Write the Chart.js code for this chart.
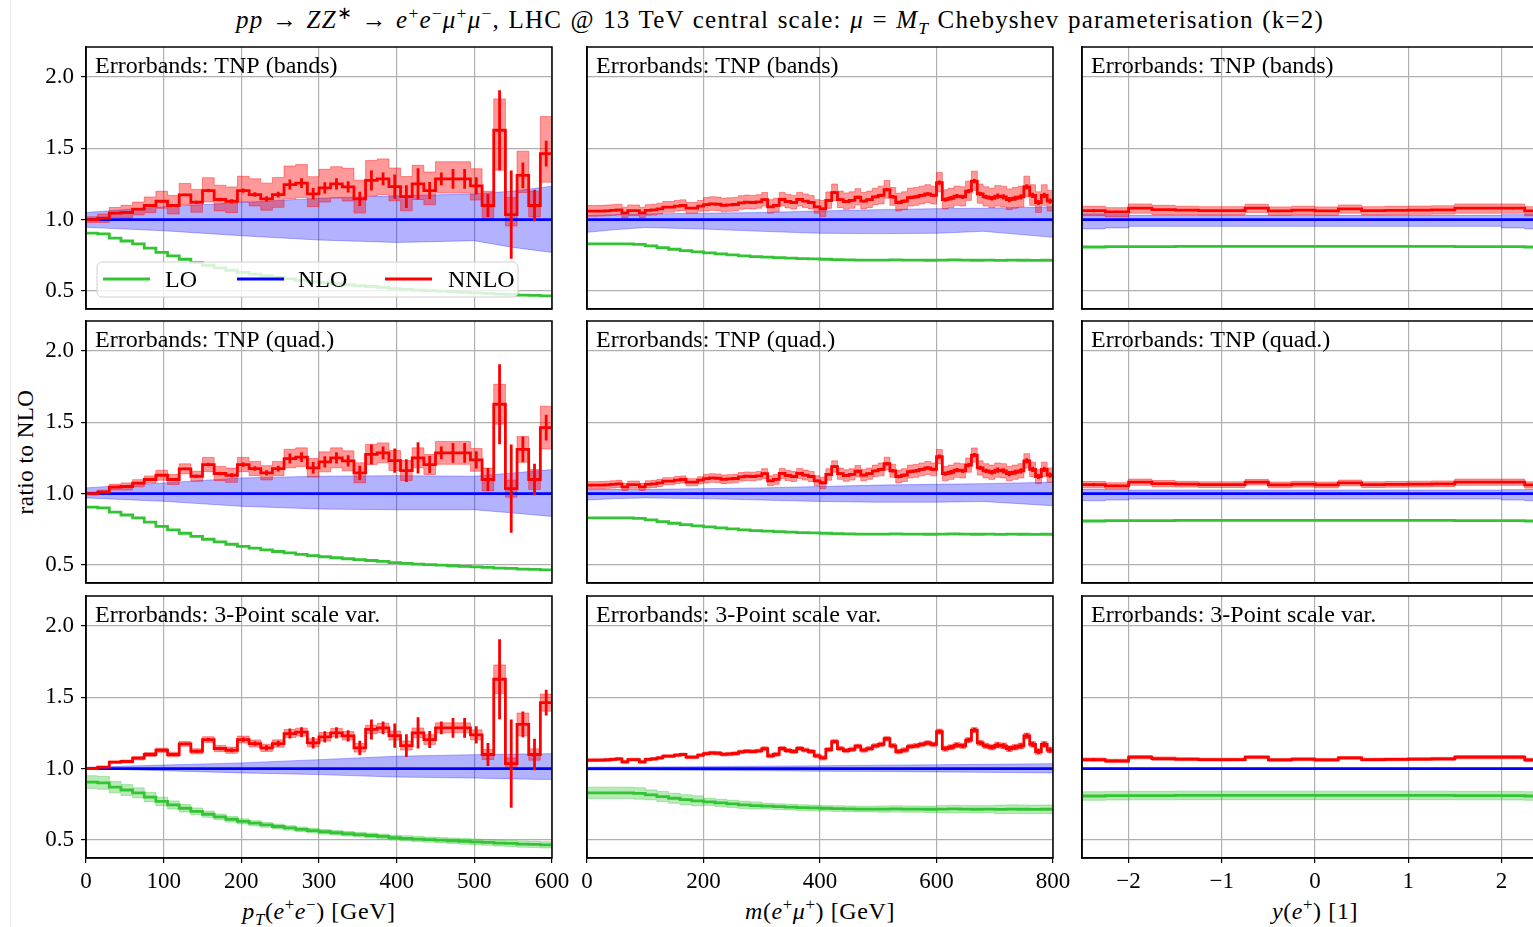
<!DOCTYPE html>
<html>
<head>
<meta charset="utf-8">
<title>Ratio to NLO, pp → ZZ* → e+e−μ+μ−</title>
<style>
  html, body { margin: 0; padding: 0; background: #fff; }
  body { width: 1533px; height: 927px; overflow: hidden; position: relative;
         font-family: 'Liberation Serif', 'Times New Roman', serif; color: #000; }
  canvas { position: absolute; }
  .txt { position: absolute; white-space: nowrap; line-height: 1; }
  #title { left: 780px; top: 7px; transform: translateX(-50%); font-size: 25px; letter-spacing: 1.2px; word-spacing: 1px; }
  #ylabel { left: 25px; top: 452px; transform: translate(-50%, -50%) rotate(-90deg); font-size: 23px; letter-spacing: 0.5px; }
  .xlabel { top: 899px; transform: translateX(-50%); font-size: 24px; letter-spacing: 0.6px; }
  sup, sub { font-size: 70%; line-height: 0; }
  #edge { position: absolute; left: 10px; top: 0; width: 1px; height: 927px; background: #ececec; }
</style>
</head>
<body>
<div id="edge"></div>
<div class="txt" id="title"><i>pp</i> → <i>ZZ</i><sup>∗</sup> → <i>e</i><sup>+</sup><i>e</i><sup>−</sup><i>μ</i><sup>+</sup><i>μ</i><sup>−</sup>, LHC @ 13 TeV central scale: <i>μ</i> = <i>M<sub>T</sub></i> Chebyshev parameterisation (k=2)</div>
<div class="txt" id="ylabel">ratio to NLO</div>
<div class="txt xlabel" style="left:319px"><i>p<sub>T</sub></i>(<i>e</i><sup>+</sup><i>e</i><sup>−</sup>) [GeV]</div>
<div class="txt xlabel" style="left:820px"><i>m</i>(<i>e</i><sup>+</sup><i>μ</i><sup>+</sup>) [GeV]</div>
<div class="txt xlabel" style="left:1315px"><i>y</i>(<i>e</i><sup>+</sup>) [1]</div>

<script src="https://cdn.jsdelivr.net/npm/chart.js@4"></script>
<script>
// ---------- values ----------
const seriesNames = ['LO', 'NLO', 'NNLO'];
const rowLabels = ['Errorbands: TNP (bands)', 'Errorbands: TNP (quad.)', 'Errorbands: 3-Point scale var.'];
const yTicks = [0.5, 1.0, 1.5, 2.0];
const yRange = [0.373, 2.211];
const nloRatio = 1.0;

// p_T(e+e-) [GeV], 15 GeV bins
const ptTicks = [0, 100, 200, 300, 400, 500, 600];
const ptEdges = [0, 15, 30, 45, 60, 75, 90, 105, 120, 135, 150, 165, 180, 195, 210, 225, 240, 255, 270, 285,
  300, 315, 330, 345, 360, 375, 390, 405, 420, 435, 450, 465, 480, 495, 510, 525, 540, 555, 570, 585, 600];
const ptNNLO = [1.000, 1.010, 1.045, 1.050, 1.073, 1.099, 1.129, 1.099, 1.174, 1.122,
  1.204, 1.141, 1.129, 1.204, 1.176, 1.146, 1.176, 1.246, 1.256, 1.181,
  1.223, 1.251, 1.230, 1.146, 1.275, 1.286, 1.232, 1.162, 1.251, 1.204,
  1.286, 1.286, 1.286, 1.237, 1.099, 1.627, 1.035, 1.310, 1.099, 1.463];
const ptStat = [0.004, 0.004, 0.005, 0.005, 0.006, 0.006, 0.007, 0.008, 0.008, 0.010,
  0.012, 0.012, 0.014, 0.015, 0.016, 0.018, 0.020, 0.035, 0.035, 0.040,
  0.040, 0.040, 0.040, 0.050, 0.070, 0.045, 0.085, 0.080, 0.110, 0.060,
  0.045, 0.070, 0.070, 0.060, 0.080, 0.280, 0.310, 0.090, 0.110, 0.090];
const ptLO = [0.905, 0.900, 0.870, 0.850, 0.830, 0.800, 0.770, 0.745, 0.722, 0.700,
  0.680, 0.662, 0.645, 0.630, 0.617, 0.605, 0.594, 0.584, 0.574, 0.565,
  0.557, 0.550, 0.543, 0.537, 0.531, 0.525, 0.516, 0.511, 0.506, 0.502,
  0.498, 0.494, 0.490, 0.486, 0.482, 0.478, 0.475, 0.471, 0.468, 0.465];
const ptLOScale = [0.045, 0.045, 0.040, 0.038, 0.035, 0.032, 0.030, 0.028, 0.026, 0.024,
  0.022, 0.020, 0.020, 0.018, 0.018, 0.017, 0.017, 0.016, 0.016, 0.016,
  0.016, 0.016, 0.016, 0.016, 0.017, 0.017, 0.017, 0.018, 0.018, 0.018,
  0.019, 0.019, 0.020, 0.020, 0.020, 0.021, 0.021, 0.022, 0.022, 0.022];
const ptRedUpBands = [0.02, 0.03, 0.04, 0.05, 0.05, 0.06, 0.07, 0.07, 0.08, 0.09,
  0.09, 0.10, 0.10, 0.10, 0.11, 0.11, 0.12, 0.13, 0.13, 0.12,
  0.13, 0.12, 0.13, 0.13, 0.14, 0.14, 0.13, 0.14, 0.13, 0.13,
  0.12, 0.12, 0.12, 0.12, 0.10, 0.22, 0.12, 0.17, 0.10, 0.26];
const ptRedDnBands = [0.02, 0.03, 0.03, 0.04, 0.04, 0.05, 0.05, 0.06, 0.07, 0.07,
  0.08, 0.08, 0.08, 0.08, 0.08, 0.08, 0.09, 0.10, 0.10, 0.09,
  0.10, 0.10, 0.10, 0.10, 0.11, 0.11, 0.10, 0.10, 0.11, 0.10,
  0.10, 0.10, 0.10, 0.10, 0.09, 0.28, 0.08, 0.12, 0.08, 0.20];
const ptRedQuad = [0.010, 0.015, 0.020, 0.025, 0.025, 0.025, 0.035, 0.035, 0.035, 0.035,
  0.050, 0.050, 0.050, 0.050, 0.050, 0.050, 0.050, 0.065, 0.065, 0.065,
  0.070, 0.070, 0.070, 0.070, 0.070, 0.070, 0.070, 0.070, 0.070, 0.070,
  0.080, 0.080, 0.080, 0.080, 0.080, 0.140, 0.060, 0.090, 0.070, 0.150];
const ptRedScale = [0.004, 0.006, 0.008, 0.010, 0.012, 0.014, 0.015, 0.016, 0.017, 0.018,
  0.020, 0.022, 0.022, 0.024, 0.025, 0.025, 0.026, 0.028, 0.028, 0.028,
  0.030, 0.030, 0.030, 0.030, 0.030, 0.032, 0.032, 0.032, 0.034, 0.034,
  0.035, 0.035, 0.035, 0.035, 0.035, 0.100, 0.040, 0.080, 0.040, 0.060];
const ptNloX = [0, 100, 200, 300, 400, 500, 550, 600];
const ptNloUpBands = [1.050, 1.090, 1.120, 1.150, 1.167, 1.180, 1.200, 1.235];
const ptNloDnBands = [0.946, 0.922, 0.887, 0.857, 0.840, 0.852, 0.805, 0.770];
const ptNloUpQuad = [1.040, 1.075, 1.110, 1.122, 1.126, 1.122, 1.145, 1.169];
const ptNloDnQuad = [0.970, 0.946, 0.911, 0.892, 0.887, 0.887, 0.864, 0.840];
const ptNloUpScale = [1.009, 1.025, 1.040, 1.063, 1.087, 1.098, 1.102, 1.105];
const ptNloDnScale = [1.000, 0.985, 0.970, 0.958, 0.941, 0.934, 0.928, 0.923];

// m(e+mu+) [GeV], 10 GeV bins (LO read on 20 GeV bins, bands per 100 GeV)
const mTicks = [0, 200, 400, 600, 800];
const mEdges = [0, 10, 20, 30, 40, 50, 60, 70, 80, 90, 100, 110, 120, 130, 140, 150, 160, 170, 180, 190,
  200, 210, 220, 230, 240, 250, 260, 270, 280, 290, 300, 310, 320, 330, 340, 350, 360, 370, 380, 390,
  400, 410, 420, 430, 440, 450, 460, 470, 480, 490, 500, 510, 520, 530, 540, 550, 560, 570, 580, 590,
  600, 610, 620, 630, 640, 650, 660, 670, 680, 690, 700, 710, 720, 730, 740, 750, 760, 770, 780, 790, 800];
const mNNLO = [1.059, 1.059, 1.060, 1.062, 1.065, 1.068, 1.047, 1.063, 1.063, 1.047,
  1.065, 1.068, 1.075, 1.087, 1.087, 1.095, 1.099, 1.080, 1.080, 1.094,
  1.105, 1.110, 1.108, 1.100, 1.103, 1.106, 1.118, 1.122, 1.120, 1.125,
  1.140, 1.090, 1.100, 1.141, 1.127, 1.120, 1.141, 1.130, 1.120, 1.090,
  1.075, 1.134, 1.190, 1.140, 1.127, 1.135, 1.157, 1.130, 1.140, 1.160,
  1.170, 1.210, 1.160, 1.120, 1.130, 1.155, 1.160, 1.170, 1.180, 1.170,
  1.260, 1.140, 1.150, 1.165, 1.160, 1.200, 1.270, 1.180, 1.160, 1.150,
  1.165, 1.160, 1.140, 1.150, 1.160, 1.230, 1.170, 1.120, 1.170, 1.130];
const mStat = [0.004, 0.005, 0.006, 0.008, 0.010, 0.012, 0.015, 0.018];
const mLOEdges = [0, 20, 40, 60, 80, 100, 120, 140, 160, 180, 200, 220, 240, 260, 280, 300, 320, 340, 360, 380,
  400, 420, 440, 460, 480, 500, 520, 540, 560, 580, 600, 620, 640, 660, 680, 700, 720, 740, 760, 780, 800];
const mLO = [0.830, 0.830, 0.830, 0.830, 0.826, 0.816, 0.804, 0.792, 0.782, 0.774,
  0.767, 0.760, 0.753, 0.746, 0.741, 0.737, 0.733, 0.730, 0.727, 0.724,
  0.722, 0.720, 0.718, 0.716, 0.716, 0.716, 0.717, 0.716, 0.716, 0.715,
  0.716, 0.717, 0.716, 0.715, 0.716, 0.714, 0.716, 0.715, 0.714, 0.715];
const mLOScale = [0.040, 0.035, 0.025, 0.020, 0.020, 0.022, 0.026, 0.030];
const mRedUpBands = [0.040, 0.040, 0.050, 0.050, 0.060, 0.065, 0.070, 0.075];
const mRedDnBands = [0.035, 0.035, 0.045, 0.045, 0.055, 0.060, 0.065, 0.070];
const mRedQuad = [0.025, 0.025, 0.030, 0.035, 0.040, 0.045, 0.050, 0.050];
const mRedScale = [0.010, 0.010, 0.012, 0.014, 0.015, 0.016, 0.018, 0.020];
const mNloX = [0, 50, 100, 200, 300, 400, 500, 600, 680, 800];
const mNloUpBands = [1.030, 1.035, 1.040, 1.045, 1.050, 1.060, 1.070, 1.077, 1.080, 1.090];
const mNloDnBands = [0.911, 0.930, 0.945, 0.934, 0.918, 0.904, 0.902, 0.904, 0.918, 0.876];
const mNloUpQuad = [1.030, 1.030, 1.030, 1.035, 1.040, 1.050, 1.060, 1.065, 1.070, 1.080];
const mNloDnQuad = [0.955, 0.965, 0.970, 0.965, 0.955, 0.945, 0.940, 0.940, 0.945, 0.915];
const mNloUpScale = [1.010, 1.011, 1.012, 1.014, 1.017, 1.020, 1.024, 1.027, 1.030, 1.035];
const mNloDnScale = [0.990, 0.990, 0.990, 0.988, 0.985, 0.982, 0.980, 0.977, 0.974, 0.970];

// y(e+), 0.25 bins (bands per unit of rapidity)
const yTicksX = [-2, -1, 0, 1, 2];
const yEdges = [-2.5, -2.25, -2, -1.75, -1.5, -1.25, -1, -0.75, -0.5, -0.25, 0,
  0.25, 0.5, 0.75, 1, 1.25, 1.5, 1.75, 2, 2.25, 2.5];
const yNNLO = [1.063, 1.054, 1.080, 1.070, 1.066, 1.063, 1.063, 1.080, 1.061, 1.066,
  1.061, 1.075, 1.063, 1.065, 1.067, 1.069, 1.080, 1.080, 1.080, 1.061];
const yStat = [0.012, 0.008, 0.006, 0.005, 0.005, 0.005, 0.004, 0.004, 0.004, 0.004,
  0.004, 0.004, 0.004, 0.004, 0.005, 0.005, 0.005, 0.006, 0.008, 0.012];
const yLO = [0.808, 0.810, 0.811, 0.811, 0.812, 0.812, 0.812, 0.812, 0.812, 0.812,
  0.812, 0.812, 0.812, 0.812, 0.812, 0.812, 0.811, 0.811, 0.810, 0.808];
const yLOScale = [0.030, 0.030, 0.030, 0.030, 0.030];
const yRedUpBands = [0.030, 0.028, 0.028, 0.028, 0.030];
const yRedDnBands = [0.035, 0.030, 0.030, 0.030, 0.035];
const yRedQuad = [0.022, 0.020, 0.020, 0.020, 0.022];
const yRedScale = [0.012, 0.010, 0.010, 0.010, 0.012];
const yNloEdges = [-2.5, -2.25, -2, 2, 2.25, 2.5];
const yNloUpBands = [1.040, 1.035, 1.030, 1.035, 1.040];
const yNloDnBands = [0.935, 0.942, 0.953, 0.942, 0.935];
const yNloUpQuad = [1.030, 1.028, 1.025, 1.028, 1.030];
const yNloDnQuad = [0.950, 0.955, 0.962, 0.955, 0.950];
const yNloUpScale = [1.004, 1.004, 1.003, 1.004, 1.004];
const yNloDnScale = [0.996, 0.996, 0.997, 0.996, 0.996];

// ---------- styling / layout ----------
const RED = '#ff0000', BLUE = '#0000ff', GREEN = '#33c433';
const RED_BAND = 'rgba(255,0,0,0.4)', BLUE_BAND = 'rgba(0,0,255,0.3)', GREEN_BAND = 'rgba(51,196,51,0.35)';
const GRID = '#b0b0b0';
const SERIF = "'Liberation Serif', 'Times New Roman', serif";
const colLeft = [86, 587, 1082];
const rowTop = [47, 321, 596];
const plotW = 466, plotH = 262;

// repeat each coarse value over n bins
const perBin = (coarse, n) => coarse.flatMap((v) => Array(n).fill(v));

// histogram steps: value i holds from edges[i] to edges[i+1] (use with stepped: true)
function steps(edges, vals) {
  const pts = vals.map((v, i) => ({ x: edges[i], y: v }));
  pts.push({ x: edges[edges.length - 1], y: vals[vals.length - 1] });
  return pts;
}
function points(xs, ys) {
  return xs.map((x, i) => ({ x, y: ys[i] }));
}
function errBars(edges, vals, errs) {
  const pts = [];
  vals.forEach((v, i) => {
    const c = (edges[i] + edges[i + 1]) / 2;
    pts.push({ x: c, y: v - errs[i] }, { x: c, y: v + errs[i] }, { x: c, y: null });
  });
  return pts;
}
function band(lower, upper, color, stepped) {
  return [
    { data: lower, borderColor: color, borderWidth: 1, stepped, fill: false },
    { data: upper, borderColor: color, borderWidth: 1, stepped, fill: '-1', backgroundColor: color },
  ];
}

const columns = [
  {
    edges: ptEdges, nnlo: ptNNLO, stat: ptStat, loEdges: ptEdges, lo: ptLO, loScale: ptLOScale,
    ticks: ptTicks, range: [0, 600],
    red: [[ptRedUpBands, ptRedDnBands], [ptRedQuad, ptRedQuad], [ptRedScale, ptRedScale]],
    nloX: ptNloX, nloStepped: false,
    nlo: [[ptNloUpBands, ptNloDnBands], [ptNloUpQuad, ptNloDnQuad], [ptNloUpScale, ptNloDnScale]],
  },
  {
    edges: mEdges, nnlo: mNNLO, stat: perBin(mStat, 10), loEdges: mLOEdges, lo: mLO, loScale: perBin(mLOScale, 5),
    ticks: mTicks, range: [0, 800],
    red: [[perBin(mRedUpBands, 10), perBin(mRedDnBands, 10)], [perBin(mRedQuad, 10), perBin(mRedQuad, 10)],
      [perBin(mRedScale, 10), perBin(mRedScale, 10)]],
    nloX: mNloX, nloStepped: false,
    nlo: [[mNloUpBands, mNloDnBands], [mNloUpQuad, mNloDnQuad], [mNloUpScale, mNloDnScale]],
  },
  {
    edges: yEdges, nnlo: yNNLO, stat: yStat, loEdges: yEdges, lo: yLO, loScale: perBin(yLOScale, 4),
    ticks: yTicksX, range: [-2.5, 2.5],
    red: [[perBin(yRedUpBands, 4), perBin(yRedDnBands, 4)], [perBin(yRedQuad, 4), perBin(yRedQuad, 4)],
      [perBin(yRedScale, 4), perBin(yRedScale, 4)]],
    nloX: yNloEdges, nloStepped: true,
    nlo: [[yNloUpBands, yNloDnBands], [yNloUpQuad, yNloDnQuad], [yNloUpScale, yNloDnScale]],
  },
];

function panelDatasets(col, row) {
  const ds = [
    { data: errBars(col.edges, col.nnlo, col.stat), borderColor: RED, borderWidth: 2.8, spanGaps: false },
    { data: steps(col.edges, col.nnlo), borderColor: RED, borderWidth: 2.8, stepped: true },
    { data: [{ x: col.range[0], y: nloRatio }, { x: col.range[1], y: nloRatio }], borderColor: BLUE, borderWidth: 2.8 },
    { data: steps(col.loEdges, col.lo), borderColor: GREEN, borderWidth: 2.8, stepped: true },
  ];
  const [up, dn] = col.red[row];
  ds.push(...band(
    steps(col.edges, col.nnlo.map((v, i) => v - dn[i])),
    steps(col.edges, col.nnlo.map((v, i) => v + up[i])),
    RED_BAND, true));
  const [nUp, nDn] = col.nlo[row];
  const mk = col.nloStepped ? steps : points;
  ds.push(...band(mk(col.nloX, nDn), mk(col.nloX, nUp), BLUE_BAND, col.nloStepped));
  if (row === 2) {
    ds.push(...band(
      steps(col.loEdges, col.lo.map((v, i) => v - col.loScale[i])),
      steps(col.loEdges, col.lo.map((v, i) => v + col.loScale[i])),
      GREEN_BAND, true));
  }
  return ds;
}

function drawLegend(ctx, a) {
  const x0 = a.left + 11, y0 = a.top + 215, w = 421, h = 35;
  ctx.beginPath();
  if (ctx.roundRect) ctx.roundRect(x0, y0, w, h, 5); else ctx.rect(x0, y0, w, h);
  ctx.fillStyle = 'rgba(255,255,255,0.8)';
  ctx.fill();
  ctx.strokeStyle = '#d0d0d0';
  ctx.lineWidth = 1;
  ctx.stroke();
  const items = [[GREEN, 6, 68], [BLUE, 140, 201], [RED, 288, 351]];
  ctx.font = '24px ' + SERIF;
  ctx.textBaseline = 'alphabetic';
  items.forEach(([color, lx, tx], i) => {
    ctx.strokeStyle = color;
    ctx.lineWidth = 2.8;
    ctx.beginPath();
    ctx.moveTo(x0 + lx, y0 + 17);
    ctx.lineTo(x0 + lx + 47, y0 + 17);
    ctx.stroke();
    ctx.fillStyle = '#000';
    ctx.fillText(seriesNames[i], x0 + tx, y0 + 25);
  });
}

const framePlugin = {
  id: 'panelFrame',
  afterDraw(chart, args, opts) {
    const { ctx, chartArea: a } = chart;
    ctx.save();
    ctx.strokeStyle = '#000';
    ctx.lineWidth = 1.5;
    ctx.strokeRect(a.left, a.top, a.right - a.left, a.bottom - a.top);
    ctx.fillStyle = '#000';
    ctx.font = '24px ' + SERIF;
    ctx.textBaseline = 'alphabetic';
    ctx.fillText(opts.label, a.left + 9, a.top + 26);
    if (opts.legend) drawLegend(ctx, a);
    ctx.restore();
  },
};

function makePanel(c, row) {
  const col = columns[c];
  const padL = c === 0 ? 60 : 20;
  const padB = row === 2 ? 45 : 2;
  const padT = 4, padR = 30;
  const canvas = document.createElement('canvas');
  canvas.width = plotW + padL + padR;
  canvas.height = plotH + padT + padB;
  canvas.style.left = colLeft[c] - padL + 'px';
  canvas.style.top = rowTop[row] - padT + 'px';
  canvas.style.width = canvas.width + 'px';
  canvas.style.height = canvas.height + 'px';
  document.body.appendChild(canvas);

  const noPad = (s) => { s.paddingLeft = s.paddingRight = s.paddingTop = s.paddingBottom = 0; };
  new Chart(canvas, {
    type: 'line',
    data: { datasets: panelDatasets(col, row) },
    options: {
      responsive: false,
      animation: false,
      events: [],
      layout: { padding: { left: 0, right: padR, top: padT, bottom: 0 } },
      elements: { point: { radius: 0 }, line: { tension: 0 } },
      plugins: {
        legend: { display: false },
        tooltip: { enabled: false },
        panelFrame: { label: rowLabels[row], legend: row === 0 && c === 0 },
      },
      scales: {
        x: {
          type: 'linear',
          min: col.range[0],
          max: col.range[1],
          afterBuildTicks: (s) => { s.ticks = col.ticks.map((value) => ({ value })); },
          afterFit: (s) => { s.height = padB; noPad(s); },
          grid: { color: GRID, lineWidth: 1.2, drawTicks: row === 2, tickLength: 5, tickColor: '#000', tickWidth: 1.2 },
          border: { color: '#000', width: 1.5 },
          ticks: {
            display: row === 2, color: '#000', font: { family: SERIF, size: 23 }, padding: 5,
            maxRotation: 0, autoSkip: false,
            callback: (v) => (v < 0 ? '\u2212' + Math.abs(v) : String(v)),
          },
        },
        y: {
          type: 'linear',
          min: yRange[0],
          max: yRange[1],
          afterBuildTicks: (s) => { s.ticks = yTicks.map((value) => ({ value })); },
          afterFit: (s) => { s.width = padL; noPad(s); },
          grid: { color: GRID, lineWidth: 1.2, drawTicks: c === 0, tickLength: 5, tickColor: '#000', tickWidth: 1.2 },
          border: { color: '#000', width: 1.5 },
          ticks: {
            display: c === 0, color: '#000', font: { family: SERIF, size: 23 }, padding: 7,
            callback: (v) => v.toFixed(1),
          },
        },
      },
    },
    plugins: [framePlugin],
  });
}

for (let row = 0; row < 3; row++) {
  for (let c = 0; c < 3; c++) makePanel(c, row);
}
</script>
</body>
</html>
